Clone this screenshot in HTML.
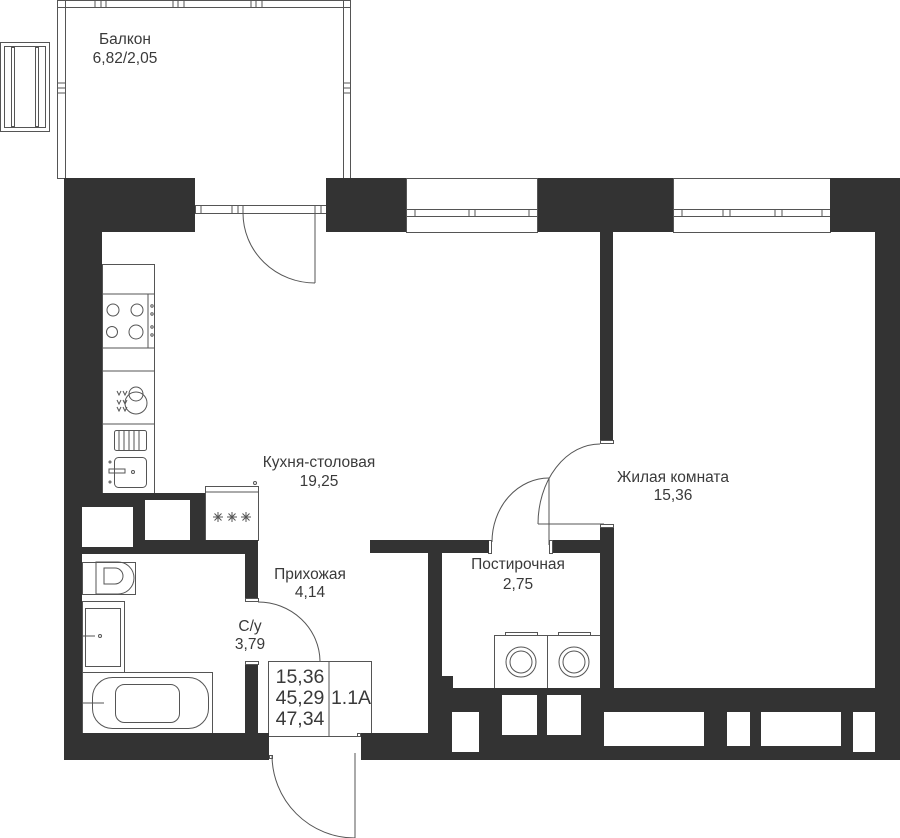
<!DOCTYPE html>
<html><head><meta charset="utf-8"><style>
html,body{margin:0;padding:0;background:#fff;}
svg{display:block;}
text{font-family:"Liberation Sans",sans-serif;fill:#3a3a3a;}
</style></head><body>
<svg width="900" height="838" viewBox="0 0 900 838" xmlns="http://www.w3.org/2000/svg">
<g fill="none" stroke="#555" stroke-width="1">
<rect x="57.5" y="0.5" width="293" height="7"/>
<rect x="57.5" y="0.5" width="8" height="178"/>
<rect x="343.5" y="0.5" width="7" height="178"/>
<line x1="57" y1="83" x2="66" y2="83"/><line x1="57" y1="88" x2="66" y2="88"/><line x1="57" y1="93" x2="66" y2="93"/>
<line x1="343" y1="83" x2="351" y2="83"/><line x1="343" y1="88" x2="351" y2="88"/><line x1="343" y1="93" x2="351" y2="93"/>
<line x1="95" y1="0" x2="95" y2="7"/><line x1="101" y1="0" x2="101" y2="7"/><line x1="106" y1="0" x2="106" y2="7"/>
<line x1="173" y1="0" x2="173" y2="7"/><line x1="178" y1="0" x2="178" y2="7"/><line x1="184" y1="0" x2="184" y2="7"/>
<line x1="251" y1="0" x2="251" y2="7"/><line x1="256" y1="0" x2="256" y2="7"/><line x1="262" y1="0" x2="262" y2="7"/>
<rect x="0.5" y="42.5" width="49" height="89"/>
<rect x="4.5" y="46.5" width="41" height="81"/>
<rect x="11.5" y="47.5" width="3" height="79"/>
<rect x="35.5" y="47.5" width="3" height="79"/>
<rect x="195.5" y="205.5" width="131" height="8"/>
<line x1="201" y1="205" x2="201" y2="213"/><line x1="232" y1="205" x2="232" y2="213"/><line x1="238" y1="205" x2="238" y2="213"/><line x1="243" y1="205" x2="243" y2="213"/>
<line x1="315" y1="205" x2="315" y2="213"/><line x1="321" y1="205" x2="321" y2="213"/>
<path d="M243 213 A72 70 0 0 0 315 283"/><line x1="315" y1="213" x2="315" y2="283"/>
<rect x="406.5" y="178.5" width="131" height="54"/>
<rect x="406.5" y="209.5" width="131" height="7"/>
<line x1="415" y1="209" x2="415" y2="217"/><line x1="469" y1="209" x2="469" y2="217"/><line x1="475" y1="209" x2="475" y2="217"/><line x1="529" y1="209" x2="529" y2="217"/>
<rect x="673.5" y="178.5" width="157" height="54"/>
<rect x="673.5" y="209.5" width="157" height="7"/>
<line x1="682" y1="209" x2="682" y2="217"/><line x1="723" y1="209" x2="723" y2="217"/><line x1="730" y1="209" x2="730" y2="217"/><line x1="775" y1="209" x2="775" y2="217"/><line x1="782" y1="209" x2="782" y2="217"/><line x1="822" y1="209" x2="822" y2="217"/>
<rect x="102.5" y="264.5" width="52" height="229"/>
<line x1="102" y1="294" x2="155" y2="294"/><line x1="102" y1="348" x2="155" y2="348"/><line x1="148" y1="294" x2="148" y2="348"/>
<line x1="102" y1="371" x2="155" y2="371"/><line x1="102" y1="424" x2="155" y2="424"/>
<circle cx="113" cy="310" r="6"/><circle cx="137" cy="310" r="6"/><circle cx="112" cy="332" r="5.5"/><circle cx="136" cy="332" r="7"/>
<circle cx="152" cy="306" r="1.2"/><circle cx="152" cy="314" r="1.2"/><circle cx="152" cy="327" r="1.2"/><circle cx="152" cy="335" r="1.2"/>
<circle cx="136" cy="394" r="7"/><circle cx="136" cy="403" r="11"/>
<path d="M117 391 l2 4 l2 -4 M123 391 l2 4 l2-4 M117 400 l2 4 l2-4 M123 400 l2 4 l2-4 M117 407 l2 4 l2-4 M123 407 l2 4 l2-4"/>
<rect x="114.5" y="430.5" width="32" height="20" rx="2"/>
<line x1="119" y1="431" x2="119" y2="450"/><line x1="124" y1="431" x2="124" y2="450"/><line x1="129" y1="431" x2="129" y2="450"/><line x1="134" y1="431" x2="134" y2="450"/><line x1="139" y1="431" x2="139" y2="450"/>
<rect x="114.5" y="457.5" width="32" height="30" rx="4"/>
<circle cx="133" cy="472" r="1.5"/><rect x="109" y="469" width="16" height="4"/><circle cx="110" cy="462" r="1"/><circle cx="110" cy="482" r="1"/>
<rect x="205.5" y="486.5" width="53" height="54"/><line x1="205" y1="492" x2="259" y2="492"/><circle cx="255" cy="483" r="1.5"/>
<path d="M213 517 h10 M218 512 v10 M214.5 513.5 l7 7 M221.5 513.5 l-7 7 M227 517 h10 M232 512 v10 M228.5 513.5 l7 7 M235.5 513.5 l-7 7 M241 517 h10 M246 512 v10 M242.5 513.5 l7 7 M249.5 513.5 l-7 7"/>
<rect x="82.5" y="562.5" width="53" height="32"/>
<path d="M96 562 H118 A16 16 0 0 1 118 594 H96 Z"/>
<path d="M104 568 H115 A8 8 0 0 1 115 584 H104 Z"/>
<rect x="82.5" y="601.5" width="42" height="71"/>
<rect x="85.5" y="608.5" width="35" height="58"/>
<line x1="82" y1="636" x2="95" y2="636"/><circle cx="100" cy="636" r="1.5"/>
<rect x="82.5" y="672.5" width="130" height="61"/>
<rect x="92.5" y="677.5" width="116" height="51" rx="20"/>
<rect x="115.5" y="684.5" width="64" height="38" rx="9"/>
<line x1="82" y1="703" x2="104" y2="703"/>
<rect x="494.5" y="635.5" width="53" height="53"/><rect x="547.5" y="635.5" width="53" height="53"/>
<rect x="505.5" y="632.5" width="32" height="3"/><rect x="558.5" y="632.5" width="32" height="3"/>
<circle cx="521" cy="662" r="15"/><circle cx="521" cy="662" r="11"/>
<circle cx="574" cy="662" r="15"/><circle cx="574" cy="662" r="11"/>
<path d="M600 444 A62 80 0 0 0 538 524"/><line x1="538" y1="524" x2="604" y2="524"/>
<path d="M549 478 A57 64 0 0 0 492 542"/><line x1="549" y1="478" x2="549" y2="545"/>
<path d="M258 602 A62 60 0 0 1 320 661"/>
<path d="M272 755 A83 83 0 0 0 355 838"/><line x1="355" y1="753" x2="355" y2="838"/>
<rect x="600.5" y="440.5" width="13" height="3"/><rect x="600.5" y="524.5" width="13" height="3"/>
<rect x="488.5" y="540.5" width="3" height="13"/><rect x="549.5" y="540.5" width="3" height="13"/>
<rect x="245.5" y="598.5" width="13" height="3"/><rect x="245.5" y="661.5" width="13" height="3"/>
<rect x="269.5" y="755.5" width="3" height="3"/><rect x="357.5" y="733.5" width="3" height="3"/>
<rect x="268.5" y="661.5" width="103" height="75"/><line x1="329" y1="661" x2="329" y2="736"/>
</g>
<g fill="#333">
<rect x="64" y="178" width="131" height="54"/>
<rect x="64" y="178" width="38" height="315"/>
<rect x="64" y="493" width="18" height="267"/>
<rect x="326" y="178" width="80" height="54"/>
<rect x="538" y="178" width="135" height="54"/>
<rect x="830" y="178" width="70" height="54"/>
<rect x="875" y="178" width="25" height="582"/>
<rect x="600" y="232" width="13" height="208"/>
<rect x="600" y="528" width="14" height="170"/>
<rect x="370" y="540" width="119" height="13"/>
<rect x="553" y="540" width="61" height="13"/>
<rect x="428" y="540" width="14" height="220"/>
<rect x="442" y="676" width="11" height="14"/>
<path d="M428 688 H900 V760 H428 Z M452 712 V752 H479 V712 Z M502 695 V735 H537 V695 Z M547 695 V735 H581 V695 Z M604 712 V746 H704 V712 Z M727 712 V746 H750 V712 Z M761 712 V746 H841 V712 Z M853 712 V752 H875 V712 Z" fill-rule="evenodd"/>
<rect x="361" y="733" width="67" height="27"/>
<rect x="64" y="733" width="205" height="27"/>
<path d="M64 493 H205 V553 H64 Z M82 507 V547 H133 V507 Z M145 500 V540 H190 V500 Z" fill-rule="evenodd"/>
<rect x="64" y="547" width="194" height="7"/>
<rect x="205" y="540" width="53" height="13"/>
<rect x="245" y="540" width="13" height="58"/>
<rect x="245" y="665" width="13" height="68"/>
</g>
<g text-anchor="middle" font-size="15.5">
<text x="125" y="44">Балкон</text><text x="125" y="63">6,82/2,05</text>
<text x="319" y="467">Кухня-столовая</text><text x="319" y="486">19,25</text>
<text x="310" y="579">Прихожая</text><text x="310" y="597">4,14</text>
<text x="250" y="631">С/у</text><text x="250" y="649">3,79</text>
<text x="518" y="569">Постирочная</text><text x="518" y="589">2,75</text>
<text x="673" y="482">Жилая комната</text><text x="673" y="500">15,36</text>
</g>
<g text-anchor="middle" font-size="19.5">
<text x="300" y="683">15,36</text><text x="300" y="704">45,29</text><text x="300" y="725">47,34</text>
<text x="351" y="704">1.1A</text>
</g>
</svg>
</body></html>
